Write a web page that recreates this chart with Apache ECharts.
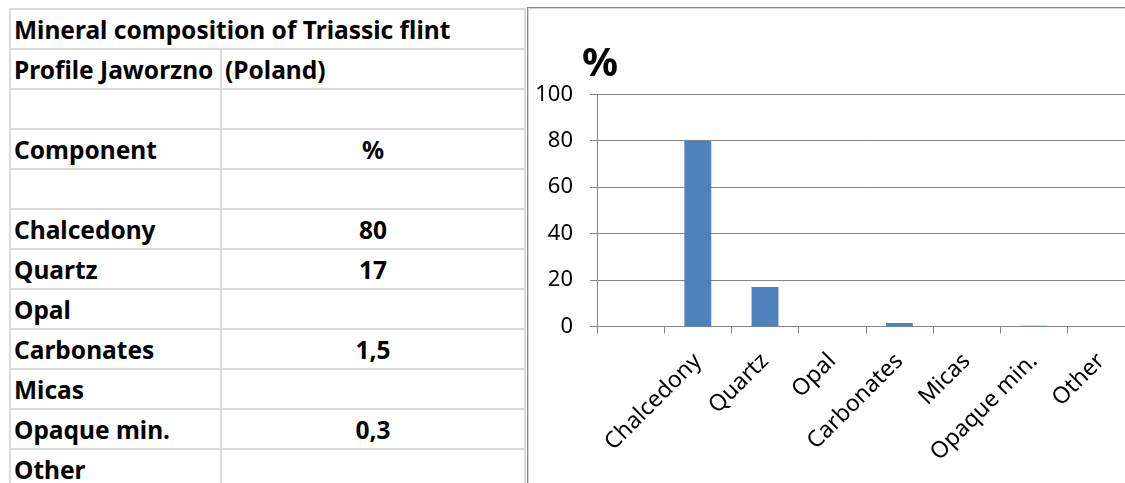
<!DOCTYPE html>
<html>
<head>
<meta charset="utf-8">
<script src="https://cdn.jsdelivr.net/npm/echarts@6/dist/echarts.min.js"></script>
<style>
  html, body { margin: 0; padding: 0; background: #fff; }
  body { width: 1125px; height: 483px; overflow: hidden; position: relative; font-family: "Noto Sans", sans-serif; }
  .hline { position: absolute; height: 2px; background: #dadada; }
  .vline { position: absolute; width: 2px; background: #dadada; }
  .cell { position: absolute; height: 40px; white-space: nowrap; font-weight: bold; font-size: 24.5px; color: #000; }
  .cell span { position: absolute; bottom: 5.5px; line-height: 1; }
  #frame { position: absolute; left: 527px; top: 7px; width: 700px; height: 600px; border: 1px solid #8a8a8a; box-shadow: inset 1px 1px 0 #d4d4d4; }
  #chart { position: absolute; left: 528px; top: 8px; width: 700px; height: 560px; }
</style>
</head>
<body>
<div id="sheet"></div>
<div id="frame"></div>
<div id="chart"></div>
<script>
// Sheet header lines
const sheetTitle = 'Mineral composition of Triassic flint';
const profileA = 'Profile Jaworzno';
const profileB = '(Poland)';
const headerA = 'Component';
const headerB = '%';

// Components (chart categories start with an empty slot)
const components = ['Chalcedony', 'Quartz', 'Opal', 'Carbonates', 'Micas', 'Opaque min.', 'Other'];
// Percent share of each component (empty where not determined)
const percents = [80, 17, null, 1.5, null, 0.3, null];

// Y axis ticks
const yMin = 0, yMax = 100, yStep = 20;

// ---------- spreadsheet table ----------
const sheet = document.getElementById('sheet');
const rowTop = 8, rowH = 40, colA = 9, colB = 220, colEnd = 524;
const fmt = v => (v === null || v === undefined) ? '' : String(v).replace('.', ',');

const rows = [
  { a: sheetTitle, b: '', span: true },
  { a: profileA, b: profileB, bLeft: true },
  { a: '', b: '' },
  { a: headerA, b: headerB },
  { a: '', b: '' }
].concat(components.map((c, i) => ({ a: c, b: fmt(percents[i]) })));

function addLine(cls, x, y, w, h) {
  const d = document.createElement('div');
  d.className = cls;
  d.style.left = x + 'px'; d.style.top = y + 'px';
  if (w !== null) d.style.width = w + 'px';
  if (h !== null) d.style.height = h + 'px';
  sheet.appendChild(d);
}

rows.forEach((r, i) => {
  const y = rowTop + i * rowH;
  addLine('hline', colA, y, colEnd - colA + 2, null);
  // column divider is hidden where the title overflows into column B
  if (!r.span) addLine('vline', colB, y, null, rowH);
  const ca = document.createElement('div');
  ca.className = 'cell';
  ca.style.left = (colA + 5) + 'px'; ca.style.top = y + 'px'; ca.style.width = '600px';
  ca.innerHTML = '<span style="left:0">' + r.a + '</span>';
  sheet.appendChild(ca);
  if (r.b) {
    const cb = document.createElement('div');
    cb.className = 'cell';
    cb.style.top = y + 'px';
    if (r.bLeft) {
      cb.style.left = (colB + 5) + 'px'; cb.style.width = '290px';
      cb.innerHTML = '<span style="left:0">' + r.b + '</span>';
    } else {
      cb.style.left = (colB + 2) + 'px'; cb.style.width = (colEnd - colB - 2) + 'px';
      cb.innerHTML = '<span style="left:0;right:0;text-align:center">' + r.b + '</span>';
    }
    sheet.appendChild(cb);
  }
});
addLine('hline', colA, rowTop + rows.length * rowH, colEnd - colA + 2, null);
addLine('vline', colA, rowTop, null, rows.length * rowH + 10);
addLine('vline', colEnd, rowTop, null, rows.length * rowH + 10);

// ---------- column chart ----------
const categories = [''].concat(components);
const values = [null].concat(percents);

const axisGray = '#868686';
const labelFamily = 'Noto Sans';

const chart = echarts.init(document.getElementById('chart'), null, { renderer: 'canvas' });
chart.setOption({
  animation: false,
  backgroundColor: 'transparent',
  title: {
    text: '%', left: 49, top: 32,
    textStyle: { fontFamily: labelFamily, fontSize: 40, fontWeight: 'bold', color: '#000' }
  },
  grid: { left: 69, top: 86.3, width: 537.6, height: 232.2, containLabel: false },
  xAxis: {
    type: 'category',
    data: categories,
    boundaryGap: true,
    axisLine: { show: true, lineStyle: { color: axisGray, width: 1 } },
    axisTick: { show: true, length: 7, interval: 0, alignWithLabel: false, lineStyle: { color: axisGray } },
    axisLabel: { interval: 0, rotate: 45, margin: 31, fontFamily: labelFamily, fontSize: 23, color: '#000' },
    splitLine: { show: false }
  },
  yAxis: {
    type: 'value',
    min: yMin, max: yMax, interval: yStep,
    axisLine: { show: true, lineStyle: { color: axisGray, width: 1 } },
    axisTick: { show: true, length: 7, lineStyle: { color: axisGray } },
    axisLabel: { margin: 24, fontFamily: labelFamily, fontSize: 22, color: '#000' },
    splitLine: { show: true, lineStyle: { color: axisGray, width: 1 } }
  },
  series: [{
    type: 'bar',
    data: values,
    barWidth: '40%',
    itemStyle: { color: '#4f81bd' }
  }]
});
</script>
</body>
</html>
